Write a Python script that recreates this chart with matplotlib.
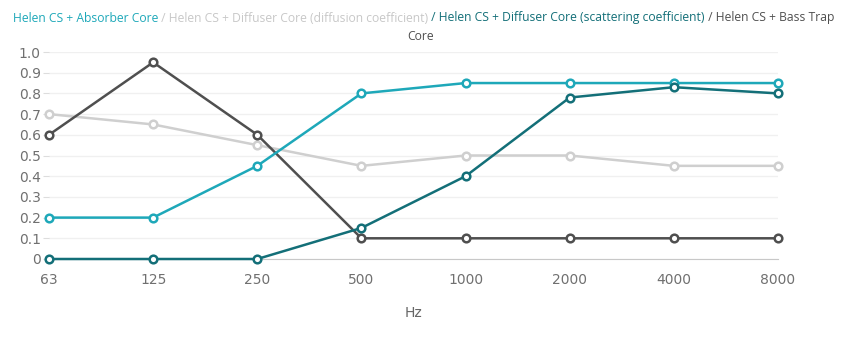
import matplotlib
matplotlib.use("Agg")
import matplotlib.pyplot as plt

# === Data ===
freqs = ["63", "125", "250", "500", "1000", "2000", "4000", "8000"]
absorber = [0.2, 0.2, 0.45, 0.8, 0.85, 0.85, 0.85, 0.85]
diffusion = [0.7, 0.65, 0.55, 0.45, 0.5, 0.5, 0.45, 0.45]
scattering = [0, 0, 0, 0.15, 0.4, 0.78, 0.83, 0.8]
bass_trap = [0.6, 0.95, 0.6, 0.1, 0.1, 0.1, 0.1, 0.1]
yticks = [0, 0.1, 0.2, 0.3, 0.4, 0.5, 0.6, 0.7, 0.8, 0.9, 1.0]
ytick_labels = ["0", "0.1", "0.2", "0.3", "0.4", "0.5", "0.6", "0.7", "0.8", "0.9", "1.0"]

c_abs = "#1ea8b9"
c_dif = "#cfcfcf"
c_sca = "#136f78"
c_bass = "#4f4f4f"

W, H = 843, 338
fig = plt.figure(figsize=(W / 100, H / 100), dpi=100)
ax = fig.add_axes([49 / W, 1 - 259 / H, (778 - 49) / W, (259 - 52) / H])

x = list(range(len(freqs)))
series = [(diffusion, c_dif), (bass_trap, c_bass), (absorber, c_abs), (scattering, c_sca)]
for vals, col in series:
    ax.plot(x, vals, color=col, lw=1.8, marker="o", ms=5.5, mfc="white",
            mec=col, mew=1.8, clip_on=False, zorder=3)

ax.set_xlim(0, 7)
ax.set_ylim(0, 1)
ax.set_xticks(x)
ax.set_xticklabels(freqs)
ax.set_yticks(yticks)
ax.set_yticklabels(ytick_labels)
ax.grid(axis="y", color="#f0f0f0", lw=1)
ax.set_axisbelow(True)
for s in ["top", "right", "left"]:
    ax.spines[s].set_visible(False)
ax.spines["bottom"].set_color("#c8c8c8")
ax.tick_params(axis="x", length=0, pad=10, labelsize=10, labelcolor="#707070")
ax.tick_params(axis="y", length=4, color="#dddddd", pad=2, labelsize=10, labelcolor="#707070")
ax.set_xlabel("Hz", color="#666666", fontsize=10, labelpad=14)

# legend-like title made of colored pieces
pieces = [
    ("Helen CS + Absorber Core", c_abs),
    (" / Helen CS + Diffuser Core (diffusion coefficient)", "#c8c8c8"),
    (" / Helen CS + Diffuser Core (scattering coefficient)", c_sca),
    (" / Helen CS + Bass Trap", c_bass),
]
fig.canvas.draw()
renderer = fig.canvas.get_renderer()
xpos = 13
for txt, col in pieces:
    t = fig.text(xpos / W, 1 - 18 / H, txt, color=col, fontsize=8.7,
                 family="Open Sans", va="center", ha="left")
    bb = t.get_window_extent(renderer)
    xpos = bb.x1
fig.text(421 / W, 1 - 37 / H, "Core", color=c_bass, fontsize=8.7,
         family="Open Sans", va="center", ha="center")

fig.savefig("out.png", dpi=100)
